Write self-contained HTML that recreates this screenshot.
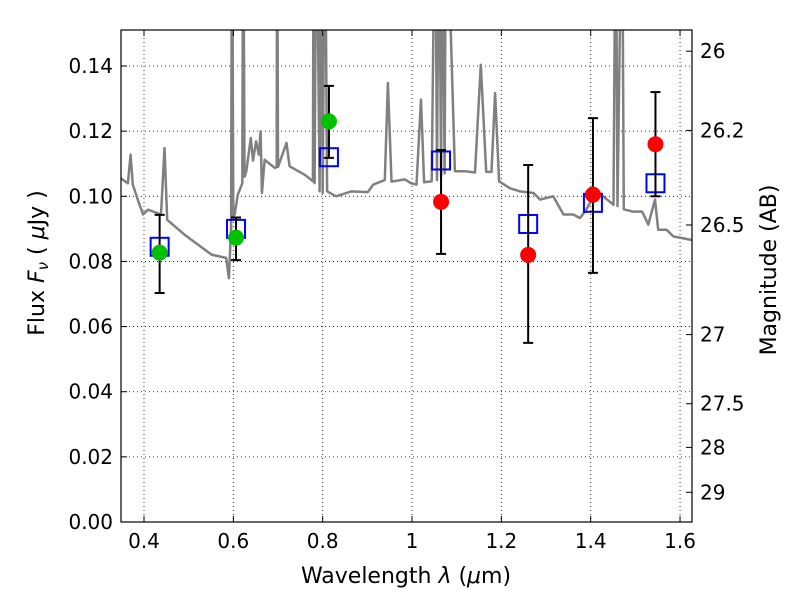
<!DOCTYPE html>
<html><head><meta charset="utf-8"><style>
body{margin:0;background:#fff}
svg{font-family:"DejaVu Sans","Liberation Sans",sans-serif}
</style></head><body>
<svg id="c" width="800" height="600"></svg>
<script>
const specLam=[0.342,0.364,0.370,0.375,0.387,0.398,0.409,0.438,0.446,0.452,0.491,0.551,0.584,0.590,0.595,0.597,0.600,0.603,0.610,0.620,0.622,0.625,0.629,0.639,0.644,0.651,0.657,0.661,0.664,0.670,0.693,0.697,0.698,0.700,0.719,0.726,0.760,0.778,0.780,0.782,0.786,0.793,0.797,0.800,0.805,0.810,0.830,0.864,0.901,0.913,0.939,0.946,0.954,0.984,0.998,1.010,1.020,1.027,1.044,1.052,1.056,1.060,1.065,1.068,1.073,1.076,1.096,1.119,1.141,1.154,1.166,1.178,1.186,1.195,1.219,1.242,1.272,1.287,1.316,1.339,1.361,1.376,1.391,1.406,1.428,1.451,1.456,1.460,1.470,1.474,1.477,1.495,1.515,1.529,1.544,1.551,1.570,1.585,1.622,1.63];
const specFlux=[0.1061,0.104,0.1128,0.1036,0.0986,0.0944,0.0959,0.0944,0.1148,0.0928,0.0882,0.0821,0.0811,0.0749,0.0903,0.2,0.094,0.0944,0.1005,0.104,0.2,0.106,0.1077,0.1179,0.111,0.1169,0.1128,0.1199,0.101,0.1112,0.1087,0.109,0.2,0.109,0.1164,0.1092,0.1066,0.1046,0.2,0.104,0.2,0.1015,0.2,0.101,0.2,0.1015,0.1,0.1015,0.1013,0.1036,0.105,0.1348,0.1045,0.1052,0.104,0.1036,0.1297,0.1043,0.1046,0.2,0.105,0.2,0.106,0.2,0.107,0.2,0.1077,0.1077,0.1073,0.1404,0.1075,0.1075,0.1317,0.1046,0.1025,0.1015,0.101,0.099,0.1,0.0944,0.0944,0.0933,0.0961,0.1,0.1,0.0974,0.2,0.097,0.2,0.096,0.0959,0.0953,0.0953,0.0913,0.099,0.0897,0.0897,0.0877,0.0867,0.0865];
const greenLam=[0.435,0.606,0.814];
const greenFlux=[0.0827,0.0873,0.123];
const greenLo=[0.0703,0.0804,0.1118];
const greenHi=[0.0943,0.0935,0.1339];
const redLam=[1.065,1.26,1.405,1.545];
const redFlux=[0.0983,0.082,0.1005,0.116];
const redLo=[0.0823,0.055,0.0765,0.100];
const redHi=[0.1142,0.1096,0.124,0.132];
const boxLam=[0.435,0.606,0.814,1.065,1.26,1.405,1.545];
const boxFlux=[0.0845,0.090,0.112,0.111,0.0915,0.098,0.104];
const xTicks=[0.4,0.6,0.8,1,1.2,1.4,1.6];
const xTickLabels=["0.4","0.6","0.8","1","1.2","1.4","1.6"];
const yTicks=[0,0.02,0.04,0.06,0.08,0.1,0.12,0.14];
const yTickLabels=["0.00","0.02","0.04","0.06","0.08","0.10","0.12","0.14"];
const magTicks=[26,26.2,26.5,27,27.5,28,29];
const magLabels=["26","26.2","26.5","27","27.5","28","29"];

const L=121,R=692,T=30,B=522;
const X=v=>144+(v-0.4)*446.7;
const Y=v=>522-v*3257;
const NS="http://www.w3.org/2000/svg";
const svg=document.getElementById('c');
function mk(t,a,p){const e=document.createElementNS(NS,t);for(const k in a)e.setAttribute(k,a[k]);(p||svg).appendChild(e);return e;}
const defs=mk('defs',{});const cp=mk('clipPath',{id:'cp'},defs);mk('rect',{x:L,y:T,width:R-L,height:B-T},cp);

const grid=mk('g',{});


xTicks.forEach(v=>mk('line',{x1:X(v),x2:X(v),y1:T,y2:B,stroke:'#000','stroke-width':0.8,'stroke-dasharray':'1,3'},grid));
yTicks.forEach(v=>mk('line',{x1:L,x2:R,y1:Y(v),y2:Y(v),stroke:'#000','stroke-width':0.8,'stroke-dasharray':'1,3'},grid));

let d='';specLam.forEach((l,i)=>{d+=(i?'L':'M')+X(l).toFixed(1)+','+Y(specFlux[i]).toFixed(1);});
const sp=mk('path',{d:d,fill:'none',stroke:'#808080','stroke-width':2.5,'clip-path':'url(#cp)','stroke-linejoin':'round'});



boxLam.forEach((l,i)=>{const r=mk('rect',{x:X(l)-9,y:Y(boxFlux[i])-9,width:18,height:18,fill:'none',stroke:'#0000ff','stroke-width':2});

});

function pts(lams,fl,lo,hi,col,name){lams.forEach((l,i)=>{const g=mk('g',{});


mk('line',{x1:X(l),x2:X(l),y1:Y(lo[i]),y2:Y(hi[i]),stroke:'#000','stroke-width':2},g);
mk('line',{x1:X(l)-5,x2:X(l)+5,y1:Y(lo[i]),y2:Y(lo[i]),stroke:'#000','stroke-width':2},g);
mk('line',{x1:X(l)-5,x2:X(l)+5,y1:Y(hi[i]),y2:Y(hi[i]),stroke:'#000','stroke-width':2},g);
mk('circle',{cx:X(l),cy:Y(fl[i]),r:8,fill:col},g);});}
pts(greenLam,greenFlux,greenLo,greenHi,'#00c000','observed-point-green');
pts(redLam,redFlux,redLo,redHi,'#ff0000','observed-point-red');

const fr=mk('rect',{x:L,y:T,width:R-L,height:B-T,fill:'none',stroke:'#000','stroke-width':1.2});



xTicks.forEach((v,i)=>{mk('line',{x1:X(v),x2:X(v),y1:B,y2:B-6,stroke:'#000'});mk('line',{x1:X(v),x2:X(v),y1:T,y2:T+6,stroke:'#000'});
const t=mk('text',{x:X(v),y:B+26,'font-size':20,'text-anchor':'middle'});t.textContent=xTickLabels[i];

});
yTicks.forEach((v,i)=>{mk('line',{x1:L,x2:L+6,y1:Y(v),y2:Y(v),stroke:'#000'});
const t=mk('text',{x:L-8,y:Y(v)+7,'font-size':20,'text-anchor':'end'});t.textContent=yTickLabels[i];

});
magTicks.forEach((m,i)=>{const y=Y(Math.pow(10,-0.4*(m-23.9)));mk('line',{x1:R-6,x2:R,y1:y,y2:y,stroke:'#000'});
const t=mk('text',{x:R+8,y:y+7,'font-size':20});t.textContent=magLabels[i];

});
</script>
<svg width="800" height="600" style="position:absolute;left:0;top:0">
<text x="406" y="583" font-size="22" text-anchor="middle" font-family="DejaVu Sans,Liberation Sans,sans-serif">Wavelength  <tspan font-style="italic">λ</tspan> (<tspan font-style="italic">μ</tspan>m)</text>
<text transform="translate(44,263) rotate(-90)" font-size="22" text-anchor="middle" font-family="DejaVu Sans,Liberation Sans,sans-serif">Flux  <tspan font-style="italic">F</tspan><tspan font-style="italic" font-size="15" dy="4">ν</tspan><tspan dy="-4">  ( </tspan><tspan font-style="italic">μ</tspan>Jy )</text>
<text transform="translate(776,270) rotate(-90)" font-size="22" text-anchor="middle" font-family="DejaVu Sans,Liberation Sans,sans-serif">Magnitude (AB)</text>
</svg>
</body></html>
